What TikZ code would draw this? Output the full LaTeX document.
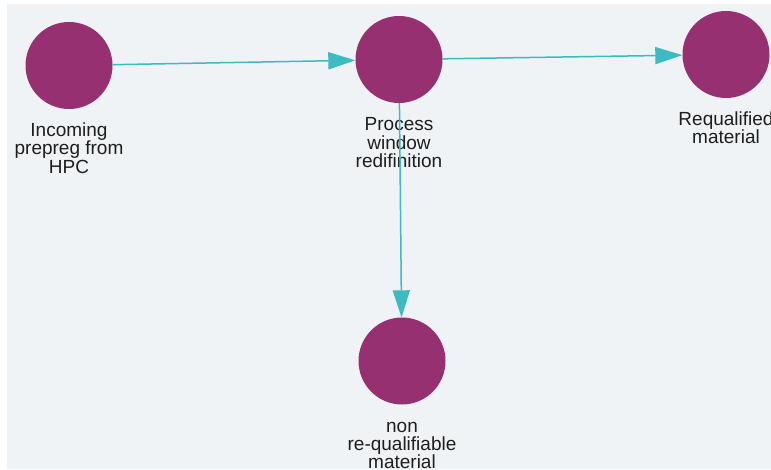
\documentclass[tikz,border=0pt]{standalone}
\usepackage{fontspec}
\setmainfont{Liberation Sans}
\usetikzlibrary{arrows.meta}
\definecolor{bgpanel}{HTML}{F0F3F5}
\definecolor{nodefill}{HTML}{963070}
\definecolor{flowline}{HTML}{3BBBC2}
\definecolor{labeltext}{HTML}{1E1E1E}
\tikzset{
  stage/.style={circle, fill=nodefill, draw=none, minimum size=87pt, inner sep=0pt},
  stagelabel/.style={align=center, inner sep=0pt, text=labeltext,
    font=\fontsize{19}{18.4}\selectfont},
  flow/.style={draw=flowline, line width=1.5pt,
    -{Triangle[length=27pt, width=17pt]}},
}
\begin{document}
\begin{tikzpicture}[x=1pt, y=-1pt]
  % page and panel
  \useasboundingbox (0,0) rectangle (771,470);
  \fill[white] (0,0) rectangle (771,470);
  \fill[bgpanel] (7,4) rectangle (771,469);

  % stages
  \node[stage] (incoming) at (69,65.5) {};
  \node[stage] (window)   at (399,59.5) {};
  \node[stage] (requal)   at (726,54.5) {};
  \node[stage] (nonreq)   at (402,361) {};

  % captions
  \node[stagelabel, anchor=north] (incoming-text) at (69,122.4) {Incoming\\prepreg from\\HPC};
  \node[stagelabel, anchor=north] (window-text)   at (399,117.4) {Process\\window\\redifinition};
  \node[stagelabel, anchor=north] (requal-text)   at (726,111.2) {Requalified\\material};
  \node[stagelabel, anchor=north] (nonreq-text)   at (402,421.6) {non\\re-qualifiable\\material};

  % connectors, drawn over the captions
  \draw[flow] (incoming) -- (window);
  \draw[flow] (window) -- (requal);
  \draw[flow] (window) -- (nonreq);
\end{tikzpicture}
\end{document}
